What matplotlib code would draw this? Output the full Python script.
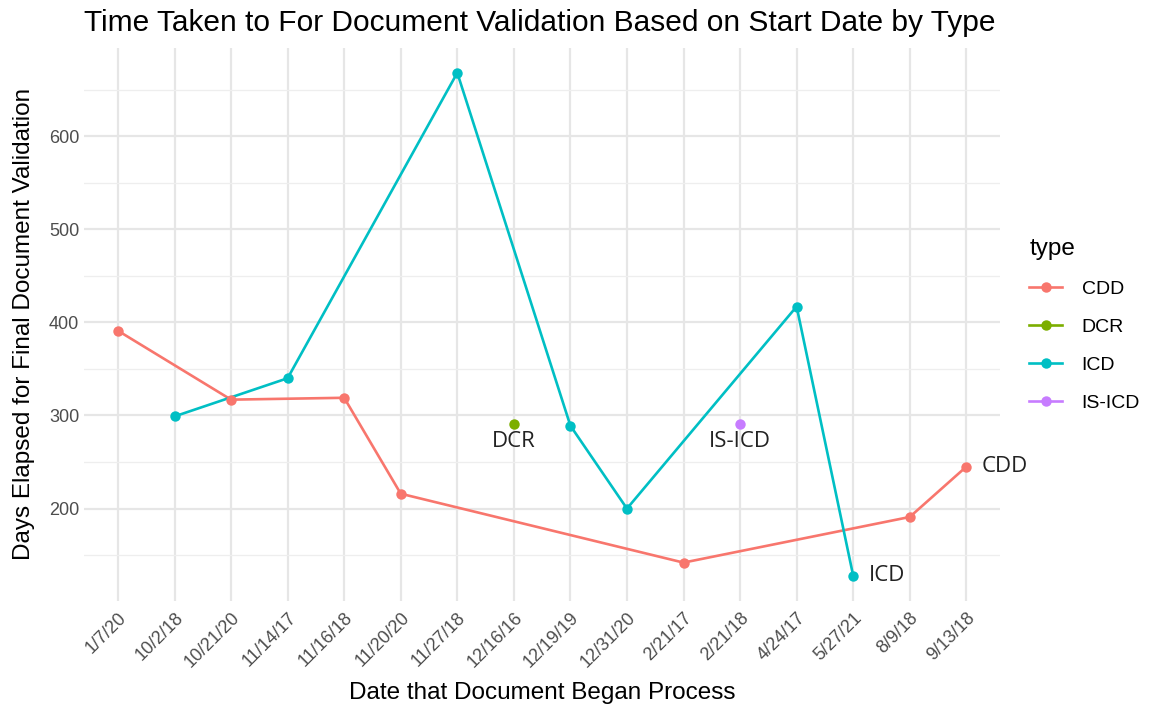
import numpy as np
import matplotlib as mpl
import matplotlib.pyplot as plt
from matplotlib.lines import Line2D

# data
# ---------------------------
dates = ['1/7/20', '10/2/18', '10/21/20', '11/14/17', '11/16/18', '11/20/20',
         '11/27/18', '12/16/16', '12/19/19', '12/31/20', '2/21/17', '2/21/18',
         '4/24/17', '5/27/21', '8/9/18', '9/13/18']

cdd_dates = ['1/7/20', '10/21/20', '11/16/18', '11/20/20', '2/21/17', '8/9/18', '9/13/18']
cdd_days = [391, 317, 319, 216, 142, 191, 245]

dcr_dates = ['12/16/16']
dcr_days = [291]

icd_dates = ['10/2/18', '11/14/17', '11/27/18', '12/19/19', '12/31/20', '4/24/17', '5/27/21']
icd_days = [299, 340, 668, 289, 200, 417, 128]

isicd_dates = ['2/21/18']
isicd_days = [291]

types = ['CDD', 'DCR', 'ICD', 'IS-ICD']
colors = ['#F8766D', '#7CAE00', '#00BFC4', '#C77CFF']

mpl.rcParams.update({
    "font.family": ["Liberation Sans", "DejaVu Sans"],
    "axes.linewidth": 0,
})

fig = plt.figure(figsize=(11.51, 7.11), dpi=100)
ax = fig.add_axes([0.073, 0.155, 0.796, 0.778])
fig.patch.set_facecolor('white')

pos = {d: i for i, d in enumerate(dates)}

lw = 1.9
ms = 7.5
series = [(cdd_dates, cdd_days), (dcr_dates, dcr_days),
          (icd_dates, icd_days), (isicd_dates, isicd_days)]
for (ds, vs), c in zip(series, colors):
    xs = [pos[d] for d in ds]
    ax.plot(xs, vs, color=c, linewidth=lw, zorder=3)
    ax.plot(xs, vs, 'o', color=c, markersize=ms, markeredgewidth=0, zorder=4)

# direct labels
lab_font = dict(family=["Open Sans", "DejaVu Sans"], fontsize=16, color='#222222')
ax.text(pos[dcr_dates[-1]], dcr_days[-1] - 8, 'DCR', ha='center', va='top', **lab_font)
ax.text(pos[isicd_dates[-1]], isicd_days[-1] - 8, 'IS-ICD', ha='center', va='top', **lab_font)
ax.text(pos[cdd_dates[-1]] + 0.27, cdd_days[-1], 'CDD', ha='left', va='center', **lab_font)
ax.text(pos[icd_dates[-1]] + 0.27, icd_days[-1], 'ICD', ha='left', va='center', **lab_font)

# axes / grid (theme_minimal look)
lo = min(min(cdd_days), min(icd_days))
hi = max(max(cdd_days), max(icd_days))
span = hi - lo
ax.set_ylim(lo - 0.05 * span, hi + 0.05 * span)
ax.set_xlim(-0.6, len(dates) - 0.4)

ax.set_xticks(range(len(dates)))
ax.set_xticklabels(dates, rotation=45, ha='right', rotation_mode='anchor',
                   fontsize=13, color='#4D4D4D')
ax.set_yticks([200, 300, 400, 500, 600])
ax.set_yticks([150, 250, 350, 450, 550, 650], minor=True)
ax.tick_params(axis='y', labelsize=13, labelcolor='#4D4D4D')
ax.tick_params(which='both', length=0)
ax.tick_params(axis='x', pad=6)

ax.grid(which='major', color='#E6E6E6', linewidth=1.6, zorder=0)
ax.grid(which='minor', axis='y', color='#EEEEEE', linewidth=0.9, zorder=0)
ax.set_axisbelow(True)
for s in ax.spines.values():
    s.set_visible(False)

ax.set_title('Time Taken to For Document Validation Based on Start Date by Type',
             fontsize=21.5, loc='left', x=0.0, pad=12)
ax.set_xlabel('Date that Document Began Process', fontsize=17.5, labelpad=8)
ax.set_ylabel('Days Elapsed for Final Document Validation', fontsize=17.5, labelpad=10)

# legend
handles = [Line2D([0], [0], color=c, linewidth=lw, marker='o', markersize=ms,
                  markeredgewidth=0) for c in colors]
leg = fig.legend(handles, types, title='type', loc='upper left',
                 bbox_to_anchor=(0.879, 0.69), frameon=False,
                 fontsize=14, title_fontsize=17.5, handlelength=1.7,
                 labelspacing=1.05, handletextpad=1.0)
leg._legend_box.align = 'left'

fig.savefig('out.png', dpi=100, facecolor='white')
